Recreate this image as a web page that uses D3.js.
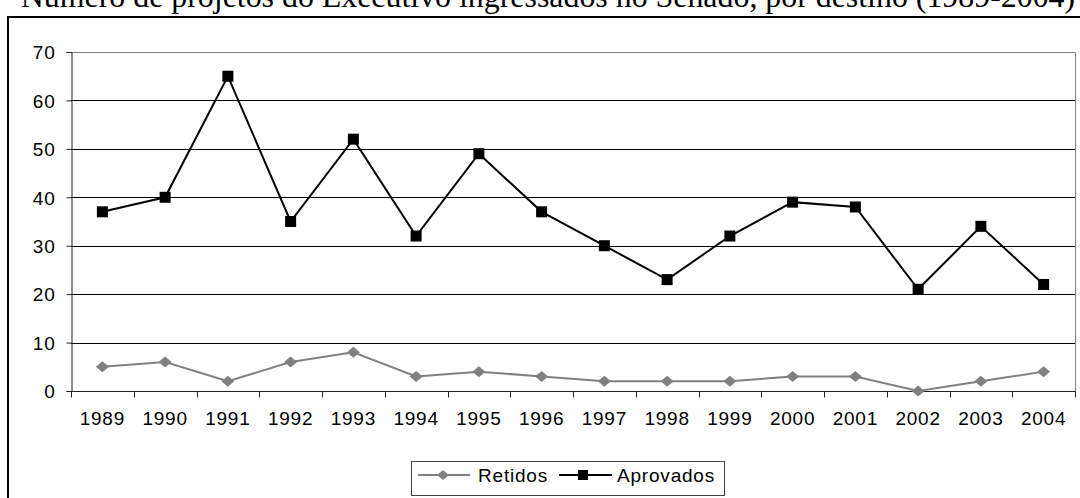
<!DOCTYPE html>
<meta charset="utf-8">
<style>
body { margin: 0; background: #fff; }
svg { display: block; }
.axis text, .legend text {
  font-family: Arial, "Liberation Sans", sans-serif;
  font-size: 19px;
  letter-spacing: 0.8px;
  fill: #000;
}
</style>
<svg width="1080" height="498"></svg>
<script src="https://d3js.org/d3.v7.min.js"></script>
<script>

var anos = ["1989","1990","1991","1992","1993","1994","1995","1996","1997","1998","1999","2000","2001","2002","2003","2004"];
var retidos = [5, 6, 2, 6, 8, 3, 4, 3, 2, 2, 2, 3, 3, 0, 2, 4];
var aprovados = [37, 40, 65, 35, 52, 32, 49, 37, 30, 23, 32, 39, 38, 21, 34, 22];
var yTicks = [0, 10, 20, 30, 40, 50, 60, 70];
var titulo = "Número de projetos do Executivo ingressados no Senado, por destino (1989-2004)";

var svg = d3.select("svg");

var x = d3.scaleBand().domain(anos).range([71, 1075]);
var y = d3.scaleLinear().domain([0, 70]).range([391, 52]);

// titulo (cortado no topo)
var t = svg.append("text")
    .attr("x", 548)
    .attr("y", 7)
    .attr("text-anchor", "middle")
    .attr("font-family", "'Liberation Serif', 'Times New Roman', serif")
    .attr("font-size", 20)
    .text(titulo);
var w = t.node().getComputedTextLength();
t.attr("font-size", 20 * 1055 / w);

// moldura externa
svg.append("rect")
    .attr("x", 8).attr("y", 17)
    .attr("width", 1090).attr("height", 500)
    .attr("fill", "none")
    .attr("stroke", "#000")
    .attr("stroke-width", 2);

// grade
svg.append("g")
  .selectAll("line")
  .data(yTicks.slice(1, -1))
  .enter().append("line")
    .attr("x1", 71).attr("x2", 1075)
    .attr("y1", function(d) { return Math.round(y(d)) + 0.5; })
    .attr("y2", function(d) { return Math.round(y(d)) + 0.5; })
    .attr("stroke", "#000");

// borda da area
svg.append("path")
    .attr("d", "M71," + (y(70) + 0.5) + "H1075.5V397")
    .attr("fill", "none")
    .attr("stroke", "#808080");

var gy = svg.append("g")
    .attr("class", "axis")
    .attr("transform", "translate(71.5,0)")
    .call(d3.axisLeft(y).tickValues(yTicks).tickSize(5).tickPadding(11));
gy.attr("font-size", null).attr("font-family", null);
gy.select(".domain").attr("stroke", "#222");
gy.selectAll(".tick line").attr("stroke", "#222");
gy.selectAll("text").attr("dy", "0.36em");

var gx = svg.append("g")
    .attr("class", "axis")
    .attr("transform", "translate(0,391.5)");
gx.append("line")
    .attr("x1", 71).attr("x2", 1075.5)
    .attr("stroke", "#222");
gx.selectAll("line.tk")
  .data(anos.concat(["fim"]))
  .enter().append("line")
    .attr("class", "tk")
    .attr("x1", function(d, i) { return Math.round(71 + i * x.bandwidth()) + 0.5; })
    .attr("x2", function(d, i) { return Math.round(71 + i * x.bandwidth()) + 0.5; })
    .attr("y1", 0).attr("y2", 6)
    .attr("stroke", "#222");
gx.selectAll("text")
  .data(anos)
  .enter().append("text")
    .attr("x", function(d) { return x(d) + x.bandwidth() / 2; })
    .attr("y", 33.5)
    .attr("text-anchor", "middle")
    .text(function(d) { return d; });

function cx(i) { return x(anos[i]) + x.bandwidth() / 2; }

var line = d3.line()
    .x(function(d, i) { return cx(i); })
    .y(function(d) { return y(d); });

svg.append("path")
    .datum(retidos)
    .attr("d", line)
    .attr("fill", "none")
    .attr("stroke", "#808080")
    .attr("stroke-width", 2);

svg.append("path")
    .datum(aprovados)
    .attr("d", line)
    .attr("fill", "none")
    .attr("stroke", "#000")
    .attr("stroke-width", 2);

var diamond = "M0,-5.5L6.5,0L0,5.5L-6.5,0Z";

svg.append("g")
  .selectAll("path")
  .data(retidos)
  .enter().append("path")
    .attr("d", diamond)
    .attr("transform", function(d, i) { return "translate(" + cx(i) + "," + y(d) + ")"; })
    .attr("fill", "#808080");

svg.append("g")
  .selectAll("rect")
  .data(aprovados)
  .enter().append("rect")
    .attr("x", function(d, i) { return cx(i) - 5.5; })
    .attr("y", function(d) { return y(d) - 5.5; })
    .attr("width", 11).attr("height", 11)
    .attr("fill", "#000");

// legenda
var lg = svg.append("g").attr("class", "legend");
lg.append("rect")
    .attr("x", 411.5).attr("y", 461.5)
    .attr("width", 313).attr("height", 34)
    .attr("fill", "#fff")
    .attr("stroke", "#404040");

lg.append("line")
    .attr("x1", 418).attr("x2", 470).attr("y1", 475).attr("y2", 475)
    .attr("stroke", "#808080").attr("stroke-width", 2);
lg.append("path")
    .attr("d", "M0,-5L6,0L0,5L-6,0Z")
    .attr("transform", "translate(443,475)")
    .attr("fill", "#808080");
lg.append("text")
    .attr("x", 478).attr("y", 481.5)
    .text("Retidos");

lg.append("line")
    .attr("x1", 559).attr("x2", 612).attr("y1", 475).attr("y2", 475)
    .attr("stroke", "#000").attr("stroke-width", 2);
lg.append("rect")
    .attr("x", 578).attr("y", 470)
    .attr("width", 10).attr("height", 10)
    .attr("fill", "#000");
lg.append("text")
    .attr("x", 617).attr("y", 481.5)
    .text("Aprovados");

</script>
